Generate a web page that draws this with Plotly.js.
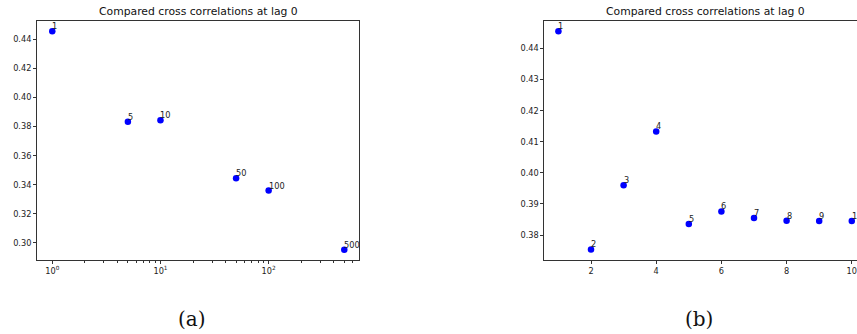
<!DOCTYPE html>
<html>
<head>
<meta charset="utf-8">
<script src="https://cdn.plot.ly/plotly-3.0.1.min.js"></script>
<style>html,body{margin:0;padding:0;background:#fff;}#chart{width:857px;height:334px;}</style>
</head>
<body>
<div id="chart"></div>
<script>
// Panel (a): log-scale window sizes
const xA = [1, 5, 10, 50, 100, 500];
const yA = [0.4455, 0.3834, 0.3843, 0.3445, 0.3360, 0.2954];
const labelsA = ["1", "5", "10", "50", "100", "500"];

// Panel (b): linear lags 1..10
const xB = [1, 2, 3, 4, 5, 6, 7, 8, 9, 10];
const yB = [0.4455, 0.3754, 0.3960, 0.4133, 0.3836, 0.3876, 0.3855, 0.3846, 0.3845, 0.3845];
const labelsB = ["1", "2", "3", "4", "5", "6", "7", "8", "9", "10"];

const titleText = "Compared cross correlations at lag 0";
const logTickVals = [1, 10, 100];
const logTickText = ["10<sup>0</sup>", "10<sup>1</sup>", "10<sup>2</sup>"];
const logMinorVals = [2,3,4,5,6,7,8,9,20,30,40,50,60,70,80,90,200,300,400,500,600];

const W = 857, H = 334;
const font = {family: "DejaVu Sans", size: 8.2, color: "#222"};
const marker = {color: "#0000ff", size: 6.5};

const traces = [
  {x: xA, y: yA, mode: "markers", type: "scatter",
   marker: marker, xaxis: "x", yaxis: "y", cliponaxis: false, hoverinfo: "x+y"},
  {x: xB, y: yB, mode: "markers", type: "scatter",
   marker: marker, xaxis: "x2", yaxis: "y2", cliponaxis: false, hoverinfo: "x+y"}
];

const axCommon = {showline: true, linecolor: "#333", linewidth: 1, showgrid: false,
  zeroline: false, ticks: "outside", ticklen: 3, tickcolor: "#333", tickfont: font,
  ticklabeloverflow: "allow"};

const dom = {
  ax: [37 / W, 359 / W],
  bx: [544.3 / W, 1.0],
  y: [1 - 260 / H, 1 - 21 / H]
};

function pointLabels(xs, ys, labels, xr, yr, logx) {
  return labels.map((t, i) => ({
    text: t, x: logx ? Math.log10(xs[i]) : xs[i], y: ys[i], xref: xr, yref: yr,
    xanchor: "left", yanchor: "bottom", showarrow: false, xshift: -2, yshift: -2,
    font: {family: "DejaVu Sans", size: 8.2, color: "#222"}
  }));
}

const layout = {
  width: W, height: H,
  margin: {l: 0, r: 0, t: 0, b: 0},
  paper_bgcolor: "#fff", plot_bgcolor: "#fff",
  showlegend: false,
  xaxis: Object.assign({}, axCommon, {
    type: "log", domain: dom.ax, anchor: "y", mirror: true,
    range: [-0.141, 2.835],
    tickmode: "array", tickvals: logTickVals, ticktext: logTickText,
    minor: {ticks: "outside", ticklen: 2, tickcolor: "#333", tickmode: "array", tickvals: logMinorVals, showgrid: false}
  }),
  yaxis: Object.assign({}, axCommon, {
    domain: dom.y, anchor: "x", mirror: true,
    range: [0.2883, 0.4526], dtick: 0.02, tick0: 0, tickformat: ".2f"
  }),
  xaxis2: Object.assign({}, axCommon, {
    domain: dom.bx, anchor: "y2", mirror: true,
    range: [0.567, 10.16], dtick: 2, tick0: 0
  }),
  yaxis2: Object.assign({}, axCommon, {
    domain: dom.y, anchor: "x2", mirror: false,
    range: [0.3720, 0.4488], dtick: 0.01, tick0: 0, tickformat: ".2f"
  }),
  annotations: [
    {text: titleText, xref: "paper", yref: "paper", x: (dom.ax[0] + dom.ax[1]) / 2, y: 1 - 12 / H,
     xanchor: "center", yanchor: "middle", showarrow: false,
     font: {family: "DejaVu Sans", size: 10.8, color: "#111"}},
    {text: titleText, xref: "paper", yref: "paper", x: (544.3 + 867) / 2 / W, y: 1 - 12 / H,
     xanchor: "center", yanchor: "middle", showarrow: false,
     font: {family: "DejaVu Sans", size: 10.8, color: "#111"}},
    {text: "(a)", xref: "paper", yref: "paper", x: 192 / W, y: 1 - 319 / H,
     xanchor: "center", yanchor: "middle", showarrow: false,
     font: {family: "DejaVu Serif", size: 20, color: "#111"}},
    {text: "(b)", xref: "paper", yref: "paper", x: 699 / W, y: 1 - 319 / H,
     xanchor: "center", yanchor: "middle", showarrow: false,
     font: {family: "DejaVu Serif", size: 20, color: "#111"}}
  ].concat(pointLabels(xA, yA, labelsA, "x", "y", true))
   .concat(pointLabels(xB, yB, labelsB, "x2", "y2", false))
};

Plotly.newPlot("chart", traces, layout, {displayModeBar: false, staticPlot: true});
</script>
</body>
</html>
